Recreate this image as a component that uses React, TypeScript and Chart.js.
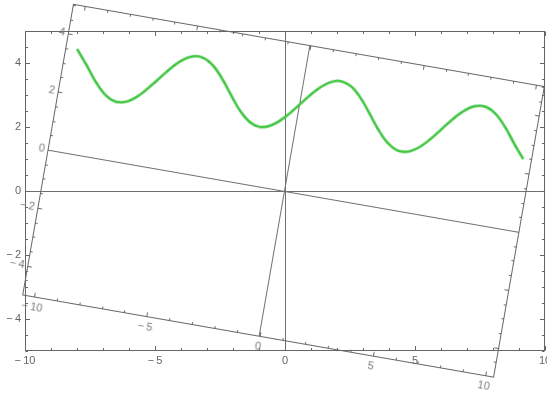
import React, { useEffect, useRef } from 'react';
import { Chart, registerables } from 'chart.js';
Chart.register(...registerables);

// ---- outer (fixed) frame ----
const outerXRange = [-10, 10];
const outerYRange = [-5, 5];
const outerXTicks = [-10, -5, 0, 5, 10];
const outerYTicks = [-4, -2, 0, 2, 4];
const outerXMinorStep = 1;
const outerYMinorStep = 0.5;

// ---- inner (rotated) plot ----
const innerXRange = [-10.515, 10.385];
const innerYRange = [-5.03, 5.03];
const innerXTicks = [-10, -5, 0, 5, 10];
const innerYTicks = [-4, -2, 0, 2, 4];
const innerXMinorStep = 1;
const innerYMinorStep = 0.5;
const rotationDeg = 9.9;

// curve (inner coordinates)
const curveX = [
  -10, -9.5, -9, -8.5, -8, -7.5, -7, -6.5, -6, -5.5, -5, -4.5, -4, -3.5, -3, -2.5, -2, -1.5, -1, -0.5,
  0, 0.5, 1, 1.5, 2, 2.5, 3, 3.5, 4, 4.5, 5, 5.5, 6, 6.5, 7, 7.5, 8, 8.5, 9, 9.5, 10,
];
const curveY = [
  3.54, 3.08, 2.59, 2.2, 2.01, 2.06, 2.34, 2.79, 3.28, 3.71, 3.96, 3.98, 3.76, 3.35, 2.86, 2.4, 2.09, 2.0, 2.16, 2.52,
  3.0, 3.48, 3.84, 4.0, 3.91, 3.6, 3.14, 2.65, 2.24, 2.02, 2.04, 2.29, 2.72, 3.22, 3.66, 3.94, 3.99, 3.8, 3.41, 2.92, 2.46,
];

const FONT = "'Liberation Sans', Arial, sans-serif";

function fmt(v: number) {
  return v < 0 ? '\u2212\u2009' + Math.abs(v) : String(v);
}

function range(min: number, max: number, step: number) {
  const out: number[] = [];
  const start = Math.ceil(min / step - 1e-9);
  const end = Math.floor(max / step + 1e-9);
  for (let i = start; i <= end; i++) out.push(+(i * step).toFixed(6));
  return out;
}

const framePlugin = {
  id: 'mmaFrame',
  afterDraw(chart: any, _args: any, opts: any) {
    const { ctx, chartArea: a, scales } = chart;
    const x = scales.x;
    const y = scales.y;
    const L = Math.round(a.left) + 0.5;
    const R = Math.round(a.right) - 0.5;
    const T = Math.round(a.top) + 0.5;
    const B = Math.round(a.bottom) - 0.5;
    ctx.save();
    ctx.strokeStyle = opts.color;
    ctx.lineWidth = 1;
    ctx.strokeRect(L, T, R - L, B - T);
    const drawX = (vals: number[], len: number) => {
      vals.forEach((v) => {
        const p = Math.round(x.getPixelForValue(v)) + 0.5;
        ctx.beginPath();
        ctx.moveTo(p, B); ctx.lineTo(p, B - len);
        ctx.moveTo(p, T); ctx.lineTo(p, T + len);
        ctx.stroke();
      });
    };
    const drawY = (vals: number[], len: number) => {
      vals.forEach((v) => {
        const p = Math.round(y.getPixelForValue(v)) + 0.5;
        ctx.beginPath();
        ctx.moveTo(L, p); ctx.lineTo(L + len, p);
        ctx.moveTo(R, p); ctx.lineTo(R - len, p);
        ctx.stroke();
      });
    };
    drawX(opts.xMajor, opts.majorLen);
    drawX(opts.xMinor.filter((v: number) => !opts.xMajor.includes(v)), opts.minorLen);
    drawY(opts.yMajor, opts.majorLen);
    drawY(opts.yMinor.filter((v: number) => !opts.yMajor.includes(v)), opts.minorLen);
    ctx.restore();
  },
};

const axisColor = (c: any) => (c.tick && c.tick.value === 0 ? '#707070' : 'rgba(0,0,0,0)');

function fixX(h: number) {
  return (s: any) => { s.height = h; s.paddingLeft = 0; s.paddingRight = 0; };
}
function fixY(w: number) {
  return (s: any) => { s.width = w; s.paddingTop = 0; s.paddingBottom = 0; };
}

export default function App() {
  const outerRef = useRef<HTMLCanvasElement>(null);
  const innerRef = useRef<HTMLCanvasElement>(null);
  const wrapRef = useRef<HTMLDivElement>(null);

  useEffect(() => {
    const outer = new Chart(outerRef.current!, {
      type: 'scatter',
      data: { datasets: [] },
      plugins: [framePlugin],
      options: {
        animation: false,
        responsive: false,
        events: [],
        layout: { padding: { left: 0, right: 2, top: 31, bottom: 0 } },
        plugins: {
          legend: { display: false },
          tooltip: { enabled: false },
          mmaFrame: {
            color: '#666666',
            xMajor: outerXTicks,
            yMajor: outerYTicks,
            xMinor: range(outerXRange[0], outerXRange[1], outerXMinorStep),
            yMinor: range(outerYRange[0], outerYRange[1], outerYMinorStep),
            majorLen: 4.5,
            minorLen: 2.5,
          },
        } as any,
        scales: {
          x: {
            type: 'linear',
            min: outerXRange[0],
            max: outerXRange[1],
            afterBuildTicks: (s: any) => { s.ticks = outerXTicks.map((v) => ({ value: v })); },
            afterFit: fixX(43),
            ticks: { callback: (v: any) => fmt(v), color: '#666', font: { family: FONT, size: 11 }, padding: 3, maxRotation: 0, autoSkip: false },
            grid: { drawTicks: false, color: axisColor, lineWidth: 1 },
            border: { display: false },
          },
          y: {
            type: 'linear',
            min: outerYRange[0],
            max: outerYRange[1],
            afterBuildTicks: (s: any) => { s.ticks = outerYTicks.map((v) => ({ value: v })); },
            afterFit: fixY(25),
            ticks: { callback: (v: any) => fmt(v), color: '#666', font: { family: FONT, size: 11 }, padding: 4, autoSkip: false },
            grid: { drawTicks: false, color: axisColor, lineWidth: 1 },
            border: { display: false },
          },
        },
      } as any,
    });

    const inner = new Chart(innerRef.current!, {
      type: 'scatter',
      data: {
        datasets: [
          {
            data: curveX.map((x, i) => ({ x, y: curveY[i] })),
            showLine: true,
            borderColor: '#43c643',
            borderWidth: 2.6,
            pointRadius: 0,
            tension: 0.4,
          } as any,
        ],
      },
      plugins: [framePlugin],
      options: {
        animation: false,
        responsive: false,
        events: [],
        layout: { padding: { left: 0, right: 45, top: 30, bottom: 0 } },
        plugins: {
          legend: { display: false },
          tooltip: { enabled: false },
          mmaFrame: {
            color: '#666666',
            xMajor: innerXTicks,
            yMajor: innerYTicks,
            xMinor: range(innerXRange[0], innerXRange[1], innerXMinorStep),
            yMinor: range(innerYRange[0], innerYRange[1], innerYMinorStep),
            majorLen: 4.2,
            minorLen: 2.4,
          },
        } as any,
        scales: {
          x: {
            type: 'linear',
            min: innerXRange[0],
            max: innerXRange[1],
            afterBuildTicks: (s: any) => { s.ticks = innerXTicks.map((v) => ({ value: v })); },
            afterFit: fixX(30),
            ticks: { callback: (v: any) => fmt(v), color: '#7a7a7a', font: { family: FONT, size: 11 }, padding: 3, maxRotation: 0, autoSkip: false },
            grid: { drawTicks: false, color: axisColor, lineWidth: 1 },
            border: { display: false },
          },
          y: {
            type: 'linear',
            min: innerYRange[0],
            max: innerYRange[1],
            afterBuildTicks: (s: any) => { s.ticks = innerYTicks.map((v) => ({ value: v })); },
            afterFit: fixY(45),
            ticks: { callback: (v: any) => fmt(v), color: '#7a7a7a', font: { family: FONT, size: 11 }, padding: 3, autoSkip: false },
            grid: { drawTicks: false, color: axisColor, lineWidth: 1 },
            border: { display: false },
          },
        },
      } as any,
    });

    const ox = outer.scales.x.getPixelForValue(0);
    const oy = outer.scales.y.getPixelForValue(0);
    const ix = inner.scales.x.getPixelForValue(0);
    const iy = inner.scales.y.getPixelForValue(0);
    const w = wrapRef.current!;
    w.style.left = ox - ix + 'px';
    w.style.top = oy - iy + 'px';
    w.style.transformOrigin = `${ix}px ${iy}px`;
    w.style.transform = `rotate(${rotationDeg}deg)`;

    return () => {
      outer.destroy();
      inner.destroy();
    };
  }, []);

  return (
    <div style={{ position: 'fixed', left: 0, top: 0, width: 547, height: 394, background: '#fff', overflow: 'hidden' }}>
      <canvas ref={outerRef} width={547} height={394} style={{ position: 'absolute', left: 0, top: 0 }} />
      <div ref={wrapRef} style={{ position: 'absolute', left: 0, top: 0, width: 569, height: 356, pointerEvents: 'none' }}>
        <canvas ref={innerRef} width={569} height={356} style={{ display: 'block' }} />
      </div>
    </div>
  );
}
